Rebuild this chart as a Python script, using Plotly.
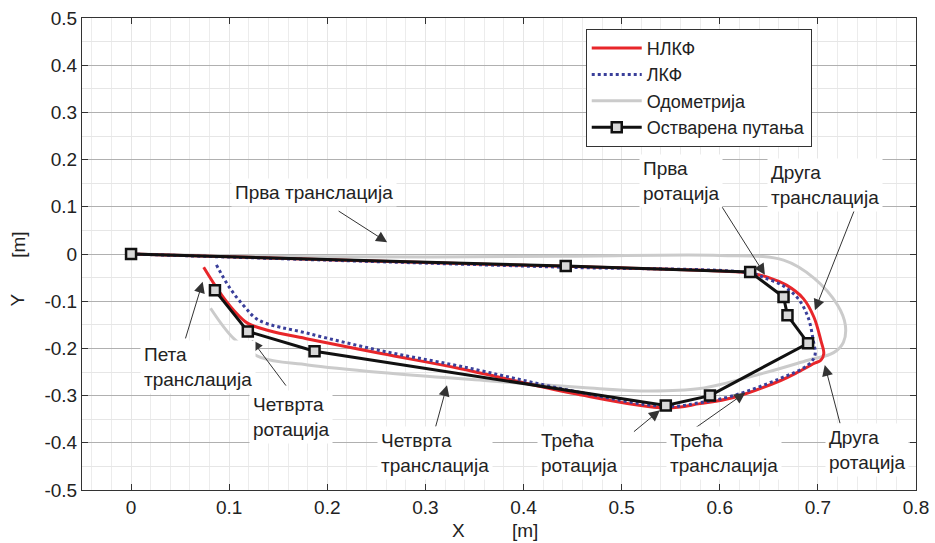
import plotly.graph_objects as go

# ---------------- data ----------------
nlkf_x = [0.0, 0.2, 0.4, 0.6, 0.63, 0.65, 0.668, 0.685, 0.696, 0.703, 0.706, 0.703, 0.696,
          0.68, 0.662, 0.614, 0.58, 0.545, 0.45, 0.336, 0.255, 0.18, 0.14, 0.119, 0.105, 0.09, 0.074]
nlkf_y = [0.0, -0.012, -0.024, -0.036, -0.040, -0.050, -0.066, -0.094, -0.134, -0.183, -0.211, -0.225, -0.232,
          -0.25, -0.268, -0.304, -0.317, -0.326, -0.295, -0.243, -0.211, -0.18, -0.162, -0.147, -0.12, -0.08, -0.028]

lkf_x = [0.0, 0.2, 0.44, 0.63, 0.645, 0.665, 0.68, 0.69, 0.695, 0.697, 0.69, 0.66,
         0.614, 0.58, 0.545, 0.45, 0.336, 0.255, 0.18, 0.13, 0.115, 0.1, 0.087]
lkf_y = [0.0, -0.013, -0.028, -0.040, -0.050, -0.068, -0.095, -0.134, -0.18, -0.215, -0.235, -0.265,
         -0.300, -0.315, -0.323, -0.29, -0.238, -0.205, -0.168, -0.14, -0.11, -0.07, -0.023]

odo_x = [0.0, 0.2, 0.44, 0.6, 0.665, 0.696, 0.72, 0.728, 0.726, 0.716, 0.69, 0.64, 0.58,
         0.52, 0.46, 0.36, 0.255, 0.18, 0.132, 0.105, 0.081]
odo_y = [0.0, -0.006, -0.005, -0.003, -0.013, -0.051, -0.108, -0.151, -0.187, -0.209, -0.225, -0.255, -0.285,
         -0.29, -0.283, -0.268, -0.251, -0.235, -0.219, -0.18, -0.115]

path_x = [0.0, 0.443, 0.631, 0.665, 0.669, 0.690, 0.590, 0.545, 0.187, 0.119, 0.0855]
path_y = [0.0, -0.0255, -0.038, -0.091, -0.130, -0.189, -0.300, -0.321, -0.206, -0.164, -0.077]

series_names = ["НЛКФ", "ЛКФ", "Одометрија", "Остварена путања"]

x_tick_vals = [0.0, 0.1, 0.2, 0.3, 0.4, 0.5, 0.6, 0.7, 0.8]
x_tick_text = ["0", "0.1", "0.2", "0.3", "0.4", "0.5", "0.6", "0.7", "0.8"]
y_tick_vals = [-0.5, -0.4, -0.3, -0.2, -0.1, 0.0, 0.1, 0.2, 0.3, 0.4, 0.5]
y_tick_text = ["-0.5", "-0.4", "-0.3", "-0.2", "-0.1", "0", "0.1", "0.2", "0.3", "0.4", "0.5"]

label_texts = ["Прва транслација", "Прва<br>ротација", "Друга<br>транслација",
               "Пета<br>транслација", "Четврта<br>ротација", "Четврта<br>транслација",
               "Трећа<br>ротација", "Трећа<br>транслација", "Друга<br>ротација"]
label_x = [0.102, 0.518, 0.648, 0.009, 0.12, 0.251, 0.414, 0.545, 0.707]
label_y = [0.131, 0.155, 0.146, -0.239, -0.345, -0.422, -0.422, -0.422, -0.415]

arrow_tip_x = [0.261, 0.646, 0.697, 0.073, 0.123, 0.322, 0.539, 0.626, 0.707]
arrow_tip_y = [0.025, -0.044, -0.119, -0.059, -0.182, -0.278, -0.331, -0.294, -0.235]
arrow_tail_x = [0.21, 0.598, 0.738, 0.055, 0.159, 0.31, 0.511, 0.572, 0.723]
arrow_tail_y = [0.093, 0.114, 0.097, -0.182, -0.282, -0.369, -0.379, -0.373, -0.362]

x_range = [-0.05, 0.8]
y_range = [-0.5, 0.5]

# ---------------- figure ----------------
FONT = "Liberation Sans, Arial, sans-serif"
TXT = "#222222"
fig = go.Figure()

fig.add_trace(go.Scatter(x=odo_x, y=odo_y, mode="lines", name=series_names[2], legendrank=3,
                         line=dict(color="#cbcbcb", width=3), line_shape="spline"))
fig.add_trace(go.Scatter(x=nlkf_x, y=nlkf_y, mode="lines", name=series_names[0], legendrank=1,
                         line=dict(color="#e8262a", width=3), line_shape="spline"))
fig.add_trace(go.Scatter(x=lkf_x, y=lkf_y, mode="lines", name=series_names[1], legendrank=2,
                         line=dict(color="#3a3f9a", width=3, dash="dot"), line_shape="spline"))
fig.add_trace(go.Scatter(x=path_x, y=path_y, mode="lines+markers", name=series_names[3], legendrank=4,
                         line=dict(color="#111111", width=3),
                         marker=dict(symbol="square", size=10, color="#d8d8d8",
                                     line=dict(color="#111111", width=2.5))))

annotations = []
for tx, ty, ax, ay in zip(arrow_tip_x, arrow_tip_y, arrow_tail_x, arrow_tail_y):
    annotations.append(dict(x=tx, y=ty, ax=ax, ay=ay, xref="x", yref="y", axref="x", ayref="y",
                            text="", showarrow=True, arrowhead=2, arrowsize=2.2, arrowwidth=1,
                            arrowcolor="#333333", standoff=0, startstandoff=0))
for t, lx, ly in zip(label_texts, label_x, label_y):
    annotations.append(dict(x=lx, y=ly, xref="x", yref="y", text=t, showarrow=False,
                            xanchor="left", yanchor="middle", align="left",
                            bgcolor="white", borderpad=3,
                            font=dict(family=FONT, size=19, color=TXT)))
# axis titles
annotations += [
    dict(x=0.451, y=-0.085, xref="paper", yref="paper", text="X", showarrow=False,
         xanchor="center", yanchor="middle", font=dict(family=FONT, size=19, color=TXT)),
    dict(x=0.531, y=-0.085, xref="paper", yref="paper", text="[m]", showarrow=False,
         xanchor="center", yanchor="middle", font=dict(family=FONT, size=19, color=TXT)),
    dict(x=-0.077, y=0.403, xref="paper", yref="paper", text="Y", showarrow=False, textangle=-90,
         xanchor="center", yanchor="middle", font=dict(family=FONT, size=19, color=TXT)),
    dict(x=-0.077, y=0.519, xref="paper", yref="paper", text="[m]", showarrow=False, textangle=-90,
         xanchor="center", yanchor="middle", font=dict(family=FONT, size=19, color=TXT)),
]

fig.update_layout(
    width=935, height=543,
    margin=dict(l=82, r=19, t=18, b=53),
    paper_bgcolor="white", plot_bgcolor="white",
    font=dict(family=FONT, size=19, color=TXT),
    showlegend=True,
    legend=dict(x=0.604, y=0.977, xanchor="left", yanchor="top",
                bgcolor="white", bordercolor="#333333", borderwidth=1,
                font=dict(family=FONT, size=18, color=TXT),
                traceorder="normal", itemwidth=50),
    annotations=annotations,
)
fig.update_xaxes(range=x_range, tickvals=x_tick_vals, ticktext=x_tick_text, automargin=False,
                 showgrid=True, gridcolor="#e6e6e6", gridwidth=1,
                 minor=dict(dtick=0.02, tick0=0, showgrid=True, gridcolor="#ececec", gridwidth=1),
                 ticks="inside", ticklen=6, tickcolor="#333", showline=True, linecolor="#333",
                 linewidth=1, mirror="ticks", zeroline=False,
                 tickfont=dict(family=FONT, size=19, color=TXT))
fig.update_yaxes(range=y_range, tickvals=y_tick_vals, ticktext=y_tick_text, automargin=False,
                 showgrid=True, gridcolor="#b0b0b0", gridwidth=1,
                 minor=dict(dtick=0.05, tick0=0, showgrid=True, gridcolor="#e6e6e6", gridwidth=1),
                 ticks="inside", ticklen=6, tickcolor="#333", showline=True, linecolor="#333",
                 linewidth=1, mirror="ticks", zeroline=False,
                 tickfont=dict(family=FONT, size=19, color=TXT))

fig.write_html("out.html")
